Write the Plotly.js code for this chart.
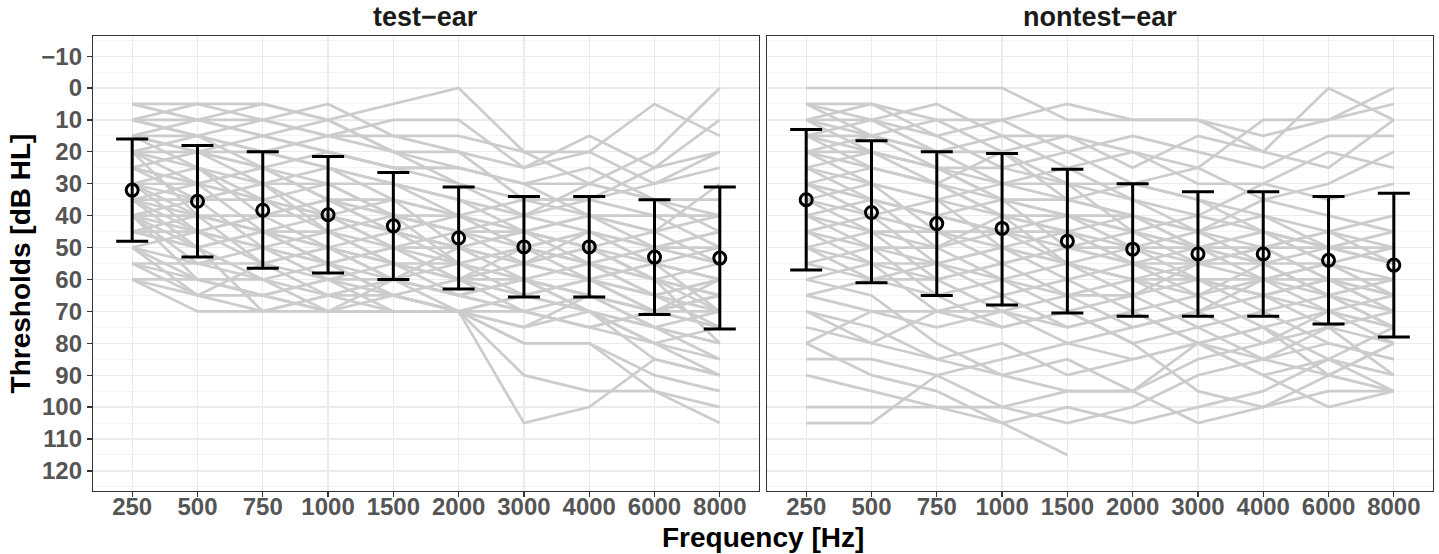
<!DOCTYPE html>
<html>
<head>
<meta charset="utf-8">
<script src="https://cdn.plot.ly/plotly-3.0.1.min.js"></script>
<style>html,body{margin:0;padding:0;background:#fff;}</style>
</head>
<body>
<div id="chart" style="width:1439px;height:554px;"></div>
<script>
// Frequency categories (Hz)
const freqs = ["250","500","750","1000","1500","2000","3000","4000","6000","8000"];

// Panel titles
const panelTitles = ["test\u2212ear", "nontest\u2212ear"];

// Individual audiograms, test ear (dB HL at each frequency)
const testEarLines = [
  [5,5,5,10,5,0,20,30,35,45],
  [10,5,10,15,10,10,25,20,5,15],
  [5,10,5,10,20,20,25,15,25,20],
  [10,10,15,20,25,25,30,30,20,0],
  [15,10,10,5,15,20,35,35,25,10],
  [10,15,20,15,20,30,40,35,30,20],
  [15,20,15,20,25,25,30,40,45,30],
  [20,15,25,30,30,35,45,40,50,55],
  [15,25,30,25,35,40,45,50,55,60],
  [20,20,20,25,30,40,50,45,55,50],
  [25,30,25,35,40,45,50,55,60,65],
  [20,25,35,40,45,50,55,50,60,70],
  [25,20,30,30,40,45,45,55,50,55],
  [30,35,30,40,35,50,55,60,65,60],
  [30,25,40,35,45,40,50,45,55,70],
  [25,35,35,45,40,55,60,55,65,75],
  [35,30,45,40,50,45,55,60,70,65],
  [30,40,40,35,45,55,50,55,60,80],
  [35,45,40,50,45,50,60,65,75,85],
  [40,35,50,45,55,60,55,60,70,75],
  [35,40,45,55,50,60,65,60,65,70],
  [40,50,45,45,55,55,60,70,80,90],
  [45,45,55,50,60,65,60,65,75,80],
  [40,55,50,60,55,60,70,65,70,75],
  [45,50,60,55,65,70,65,70,85,90],
  [50,55,55,65,60,65,70,75,80,85],
  [50,60,65,60,70,70,75,70,75,80],
  [55,60,60,70,65,70,80,80,90,95],
  [55,65,70,65,70,70,90,95,95,100],
  [60,70,70,70,70,70,105,100,85,90],
  [60,60,65,70,70,70,80,80,95,105],
  [45,50,45,50,60,65,70,75,70,65],
  [50,45,50,55,50,60,55,50,60,55],
  [55,55,60,65,65,60,60,55,65,60],
  [60,65,65,60,65,70,65,70,75,70],
  [40,45,40,40,45,50,45,50,60,65],
  [30,30,35,30,40,45,40,45,50,45],
  [20,30,25,35,35,40,35,35,40,40],
  [10,15,20,25,30,35,40,30,35,35],
  [25,20,25,20,25,30,35,40,40,50],
  [35,35,30,45,50,50,45,40,45,40],
  [45,40,55,50,55,60,50,55,50,45],
  [50,65,55,60,60,55,65,60,55,60],
  [15,15,10,15,15,15,20,20,30,25],
  [30,45,50,55,65,70,75,65,70,70],
  [40,60,65,70,60,70,70,75,70,60],
  [20,40,45,50,55,65,60,70,80,75],
  [35,50,70,65,60,50,55,45,50,50],
  [5,10,15,10,20,25,30,25,35,40],
  [25,30,35,40,50,55,50,60,55,60],
  [40,40,45,55,60,65,60,65,70,65],
  [15,20,25,35,40,40,45,50,45,55]
];

// Individual audiograms, nontest ear (dB HL at each frequency)
const nontestEarLines = [
  [0,0,0,0,10,10,10,20,0,10],
  [5,5,10,10,5,10,10,15,10,5],
  [5,10,5,15,15,20,25,10,10,0],
  [10,5,15,10,20,15,20,25,15,15],
  [10,15,10,20,15,25,15,20,25,10],
  [15,10,20,15,25,20,30,30,20,25],
  [15,20,25,25,30,30,25,35,30,20],
  [20,15,20,30,25,35,40,30,35,30],
  [20,25,30,20,35,30,35,40,45,40],
  [25,20,25,35,40,40,45,35,40,45],
  [25,30,35,30,30,45,40,45,50,50],
  [30,25,30,40,45,40,50,50,45,55],
  [30,35,40,35,40,50,45,55,55,50],
  [35,30,45,45,50,45,55,50,60,60],
  [35,40,35,50,45,55,50,60,55,65],
  [40,35,50,40,55,60,55,55,65,60],
  [40,45,45,55,50,50,60,65,60,70],
  [45,40,55,50,60,55,65,60,70,65],
  [45,50,50,60,55,65,60,70,65,75],
  [50,45,60,55,65,60,70,65,75,70],
  [50,55,55,65,60,70,65,75,70,80],
  [55,50,65,60,70,65,75,70,80,85],
  [55,60,60,70,65,75,70,80,75,90],
  [60,55,70,65,75,70,80,75,85,95],
  [65,60,65,75,70,80,75,85,90,80],
  [65,70,75,70,80,85,80,90,85,75],
  [10,10,15,25,20,30,35,45,55,65],
  [15,15,20,20,30,35,45,50,60,70],
  [20,30,35,40,45,55,60,65,70,75],
  [30,40,45,50,55,60,65,55,50,55],
  [40,50,55,60,65,65,55,50,45,50],
  [5,15,25,30,35,40,50,55,65,75],
  [25,35,40,45,45,50,55,60,60,65],
  [35,45,50,45,40,45,50,45,55,60],
  [45,55,60,55,50,55,55,50,50,55],
  [50,60,55,50,55,50,50,45,50,45],
  [20,20,25,35,50,55,60,60,55,50],
  [10,20,30,40,40,45,50,55,65,70],
  [105,105,90,85,80,75,70,60,65,60],
  [100,100,100,100,95,95,85,80,70,75],
  [80,90,95,105,100,105,100,95,85,90],
  [85,85,90,100,105,100,90,85,80,85],
  [75,80,85,80,90,85,80,75,90,95],
  [70,80,70,70,75,70,80,90,100,95],
  [80,70,70,75,70,80,95,100,95,95],
  [60,65,80,90,95,95,105,100,90,80],
  [90,95,100,105,115,null,null,null,null,null],
  [70,75,85,90,85,95,80,85,75,80],
  [15,25,30,35,35,40,45,40,50,55],
  [30,35,40,45,55,60,60,65,60,65]
];

// Means and error-bar limits
const testMean  = [32,35.5,38.3,39.7,43.2,47,49.8,49.8,53,53.3];
const testLow   = [16,18,20,21.5,26.5,31,34,34,35,31];
const testHigh  = [48,53,56.5,58,60,63,65.5,65.5,71,75.5];
const nonMean   = [35,39,42.5,44,48,50.5,52,52,54,55.5];
const nonLow    = [13,16.5,20,20.5,25.5,30,32.5,32.5,34,33];
const nonHigh   = [57,61,65,68,70.5,71.5,71.5,71.5,74,78];

const xIdx = freqs.map((f,i)=>i);

function linesTrace(lines, xa, ya){
  const xs=[], ys=[];
  lines.forEach(l=>{
    l.forEach((v,i)=>{ xs.push(i); ys.push(v); });
    xs.push(null); ys.push(null);
  });
  return {x:xs, y:ys, xaxis:xa, yaxis:ya, type:'scatter', mode:'lines',
    line:{color:'#CCCCCC', width:2.7}, connectgaps:false, hoverinfo:'skip', showlegend:false};
}
function meanTrace(m, lo, hi, xa, ya){
  return {x:xIdx, y:m, xaxis:xa, yaxis:ya, type:'scatter', mode:'markers',
    marker:{symbol:'circle-open', size:12, color:'#000', line:{width:3}},
    error_y:{type:'data', symmetric:false,
      array: hi.map((h,i)=>h-m[i]), arrayminus: lo.map((l,i)=>m[i]-l),
      color:'#000', thickness:3, width:16},
    showlegend:false, hoverinfo:'skip'};
}

const data = [
  linesTrace(testEarLines,'x','y'),
  linesTrace(nontestEarLines,'x2','y2'),
  meanTrace(testMean,testLow,testHigh,'x','y'),
  meanTrace(nonMean,nonLow,nonHigh,'x2','y2')
];

const FAM = 'Liberation Sans, Arial, sans-serif';
const tickFont = {family:FAM, size:24, color:'#555555', weight:'bold'};
function xAxis(domain, anchor){
  return {domain:domain, anchor:anchor, range:[-0.6,9.6], tickmode:'array',
    tickvals:xIdx, ticktext:freqs, showgrid:true, gridcolor:'#EBEBEB', gridwidth:1.2,
    zeroline:false, showline:true, mirror:true, linecolor:'#333333', linewidth:1.2,
    ticks:'outside', ticklen:5, tickcolor:'#333333', tickwidth:1.2, tickfont:tickFont,
    ticklabelstandoff:-11, fixedrange:true};
}
function yAxis(anchor, labels){
  return {anchor:anchor, range:[126.3,-16.3], tickmode:'linear', tick0:0, dtick:10,
    showgrid:true, gridcolor:'#EBEBEB', gridwidth:1.2,
    minor:{tickmode:'linear', tick0:5, dtick:10, showgrid:true, gridcolor:'#F4F4F4', gridwidth:1, ticks:''},
    zeroline:false, showline:true, mirror:true, linecolor:'#333333', linewidth:1.2,
    ticks: labels ? 'outside' : '', ticklen:5, tickcolor:'#333333', tickwidth:1.2,
    showticklabels:labels, tickfont:tickFont, fixedrange:true};
}

const yA = yAxis('x', true);
yA.title = {text:'Thresholds [dB HL]', font:{family:FAM, size:28, color:'#000', weight:'bold'}, standoff:2};
const yB = yAxis('x2', false);

const layout = {
  width:1439, height:554,
  margin:{l:93, r:6, t:36, b:63},
  paper_bgcolor:'#fff', plot_bgcolor:'#fff',
  showlegend:false,
  xaxis: xAxis([0,0.497],'y'),
  xaxis2: xAxis([0.503,1],'y2'),
  yaxis: yA,
  yaxis2: yB,
  annotations:[
    {text:panelTitles[0], xref:'paper', yref:'paper', x:0.2485, y:1.042, xanchor:'center', yanchor:'middle', showarrow:false,
     font:{family:FAM, size:27, color:'#1A1A1A', weight:'bold'}},
    {text:panelTitles[1], xref:'paper', yref:'paper', x:0.7515, y:1.042, xanchor:'center', yanchor:'middle', showarrow:false,
     font:{family:FAM, size:27, color:'#1A1A1A', weight:'bold'}},
    {text:'Frequency [Hz]', xref:'paper', yref:'paper', x:0.5, y:-0.103, xanchor:'center', yanchor:'middle', showarrow:false,
     font:{family:FAM, size:28, color:'#000', weight:'bold'}}
  ]
};

Plotly.newPlot('chart', data, layout, {staticPlot:true, displayModeBar:false});
</script>
</body>
</html>
